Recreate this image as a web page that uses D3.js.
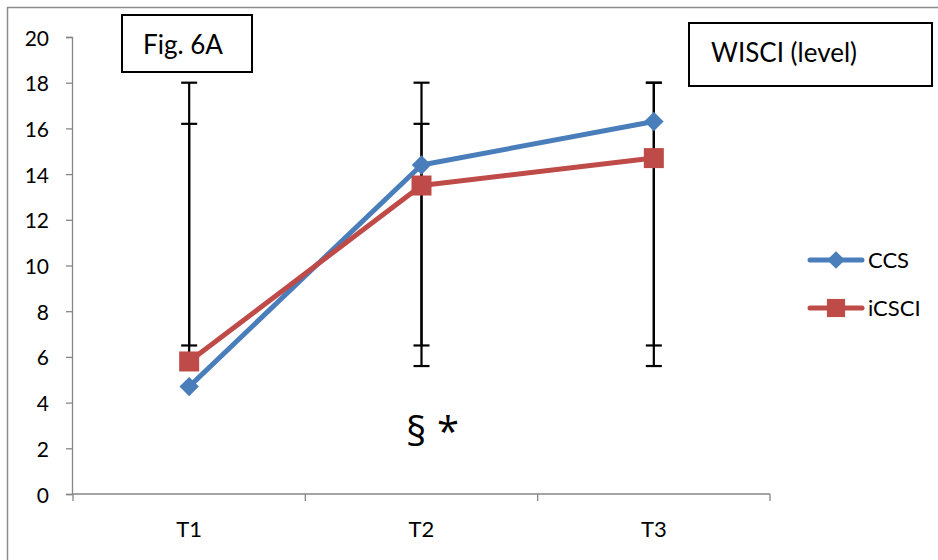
<!DOCTYPE html>
<html>
<head>
<meta charset="utf-8">
<script src="https://cdn.jsdelivr.net/npm/d3@7"></script>
<style>
  html, body { margin: 0; padding: 0; background: #fff; }
  svg { display: block; font-family: Lato, "Open Sans", sans-serif; }
</style>
</head>
<body>
<svg id="chart" width="938" height="560"></svg>
<script>
// Time points and series means
const categories = ["T1", "T2", "T3"];
const ccsValues = [4.7, 14.4, 16.3];
const icsciValues = [5.8, 13.5, 14.7];

// Whisker extents (low, high) per time point
const ccsLow = [6.5, 6.5, 6.5];
const ccsHigh = [16.2, 16.2, 18];
const icsciLow = [5.8, 5.6, 5.6];
const icsciHigh = [18, 18, 18];

const yTicks = [0, 2, 4, 6, 8, 10, 12, 14, 16, 18, 20];

const series = [
  { name: "CCS", values: ccsValues, low: ccsLow, high: ccsHigh, color: "#4A7EBB", shape: "diamond" },
  { name: "iCSCI", values: icsciValues, low: icsciLow, high: icsciHigh, color: "#BE4B48", shape: "square" }
];

const svg = d3.select("#chart");

// outer frame
svg.append("rect")
  .attr("x", 7.5).attr("y", 7.5)
  .attr("width", 940).attr("height", 560)
  .attr("fill", "none").attr("stroke", "#8c8c8c").attr("stroke-width", 1.5);

const x = d3.scaleBand().domain(categories).range([73, 770]);
const y = d3.scaleLinear().domain([0, 20]).range([494, 37]);
const cx = c => x(c) + x.bandwidth() / 2;

// y axis
const yAxis = svg.append("g")
  .attr("transform", "translate(72,0)")
  .call(d3.axisLeft(y).tickValues(yTicks).tickSize(6).tickPadding(17));
yAxis.select(".domain").attr("stroke", "#868686").attr("stroke-width", 1.3);
yAxis.selectAll(".tick line").attr("stroke", "#868686").attr("stroke-width", 1.3);
yAxis.selectAll(".tick text").attr("font-size", 21).attr("fill", "#000")
  .attr("dy", 8).attr("x", -23)
  .attr("font-family", "Lato, sans-serif");

// x axis
const xAxisG = svg.append("g").attr("transform", "translate(0,494)");
xAxisG.append("line")
  .attr("x1", 72).attr("x2", 770).attr("y1", 0).attr("y2", 0)
  .attr("stroke", "#868686").attr("stroke-width", 1.3);
const boundaries = categories.map(c => x(c)).concat([x(categories[categories.length - 1]) + x.bandwidth()]);
xAxisG.selectAll("line.sep").data(boundaries).join("line")
  .attr("class", "sep")
  .attr("x1", d => d).attr("x2", d => d)
  .attr("y1", 0).attr("y2", 7)
  .attr("stroke", "#868686").attr("stroke-width", 1.3);
xAxisG.selectAll("text").data(categories).join("text")
  .attr("x", d => cx(d)).attr("y", 43)
  .attr("text-anchor", "middle")
  .attr("font-size", 22).attr("fill", "#000")
  .text(d => d);

// whiskers
const capHalf = 8;
series.forEach(s => {
  const g = svg.append("g").attr("class", "whiskers");
  categories.forEach((c, i) => {
    const px = cx(c);
    g.append("line")
      .attr("x1", px).attr("x2", px)
      .attr("y1", y(s.low[i])).attr("y2", y(s.high[i]))
      .attr("stroke", "#000").attr("stroke-width", 2.2);
    [s.low[i], s.high[i]].forEach(v => {
      g.append("line")
        .attr("x1", px - capHalf).attr("x2", px + capHalf)
        .attr("y1", y(v)).attr("y2", y(v))
        .attr("stroke", "#000").attr("stroke-width", 2.2);
    });
  });
});

// lines and markers
const line = d3.line().x((d, i) => cx(categories[i])).y(d => y(d));
const diamond = d3.symbol().type(d3.symbolDiamond2).size(240);
const square = d3.symbol().type(d3.symbolSquare).size(400);

series.forEach(s => {
  svg.append("path")
    .datum(s.values)
    .attr("d", line)
    .attr("fill", "none")
    .attr("stroke", s.color)
    .attr("stroke-width", 5)
    .attr("stroke-linejoin", "round");
});
series.forEach(s => {
  svg.append("g").selectAll("path").data(s.values).join("path")
    .attr("transform", (d, i) => `translate(${cx(categories[i])},${y(d)})`)
    .attr("d", s.shape === "diamond" ? diamond : square)
    .attr("fill", s.color);
});

// legend
const legend = svg.append("g").attr("class", "legend");
series.forEach((s, i) => {
  const ly = 260 + i * 48;
  legend.append("line")
    .attr("x1", 810).attr("x2", 862).attr("y1", ly).attr("y2", ly)
    .attr("stroke", s.color).attr("stroke-width", 5).attr("stroke-linecap", "round");
  legend.append("path")
    .attr("transform", `translate(836,${ly})`)
    .attr("d", s.shape === "diamond" ? d3.symbol().type(d3.symbolDiamond2).size(200)() : d3.symbol().type(d3.symbolSquare).size(330)())
    .attr("fill", s.color);
  legend.append("text")
    .attr("x", 868).attr("y", ly + 8)
    .attr("font-size", 22).attr("fill", "#000")
    .text(s.name);
});

// annotation boxes
function labelBox(x0, y0, w, h, txt, tx, ty, size) {
  svg.append("rect")
    .attr("x", x0).attr("y", y0).attr("width", w).attr("height", h)
    .attr("fill", "#fff").attr("stroke", "#000").attr("stroke-width", 2);
  svg.append("text")
    .attr("x", tx).attr("y", ty)
    .attr("font-size", size).attr("fill", "#000")
    .text(txt);
}
labelBox(122, 15, 130, 57, "Fig. 6A", 143, 54, 26);
labelBox(689, 23, 243, 63, "WISCI (level)", 711, 62, 26);

// significance marks
svg.append("text")
  .attr("x", 406).attr("y", 446)
  .attr("font-size", 40).attr("fill", "#000")
  .attr("font-family", "'Open Sans', sans-serif")
  .text("§ *");
</script>
</body>
</html>
